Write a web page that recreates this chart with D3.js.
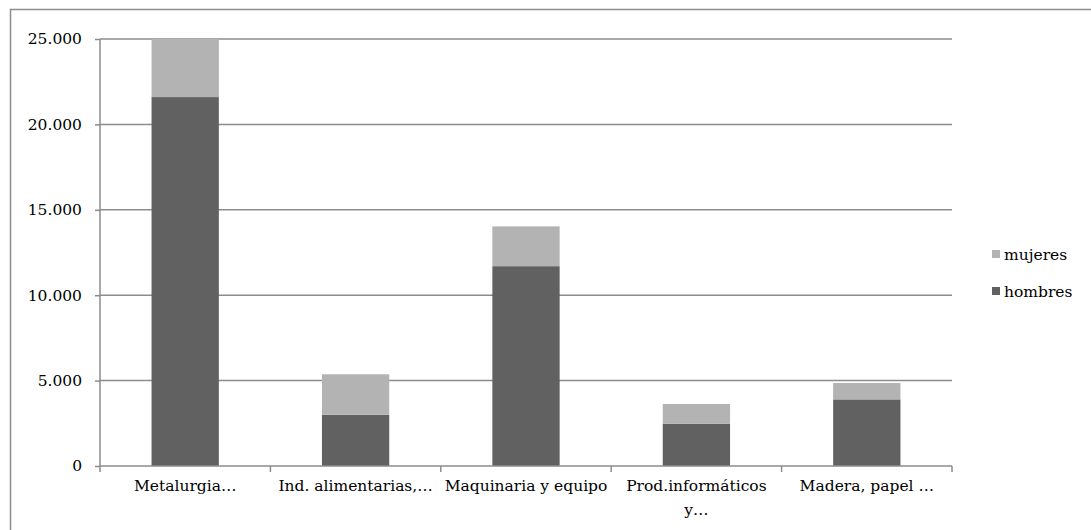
<!DOCTYPE html>
<html>
<head>
<meta charset="utf-8">
<script src="https://cdn.jsdelivr.net/npm/d3@7/dist/d3.min.js"></script>
<style>
  body { margin: 0; background: #fff; overflow: hidden; }
  svg { display: block; }
  svg text { font-family: "DejaVu Serif", serif; fill: #000; }
</style>
</head>
<body>
<svg width="1091" height="530"></svg>
<script>
const categories = ['Metalurgia…', 'Ind. alimentarias,…', 'Maquinaria y equipo', 'Prod.informáticos y…', 'Madera, papel …'];
const hombres = [21600, 3000, 11700, 2480, 3900];
const mujeres = [3400, 2370, 2330, 1150, 960];
const yTicks = [0, 5000, 10000, 15000, 20000, 25000];
const seriesNames = ['hombres', 'mujeres'];
const colors = { hombres: '#616161', mujeres: '#b3b3b3' };

const svg = d3.select('svg');
const width = +svg.attr('width');
const height = +svg.attr('height');

const margin = { top: 39, left: 100 };
const innerWidth = 952 - margin.left;
const innerHeight = 466 - margin.top;
const fontSize = '15.5px';

// outer frame (right and bottom edges fall outside the picture)
svg.append('path')
    .attr('d', `M10.5,${height}V9.5H${width}`)
    .attr('fill', 'none')
    .attr('stroke', '#8c8c8c')
    .attr('stroke-width', 1.5);

const data = categories.map((c, i) => ({ cat: c, hombres: hombres[i], mujeres: mujeres[i] }));
const stacked = d3.stack().keys(seriesNames)(data);

const xScale = d3.scaleBand()
    .domain(categories)
    .range([0, innerWidth]);

const yScale = d3.scaleLinear()
    .domain([0, 25000])
    .range([innerHeight, 0]);

const g = svg.append('g')
    .attr('transform', `translate(${margin.left}, ${margin.top})`);

// gridlines
g.selectAll('.grid').data(yTicks.slice(1))
  .enter().append('line')
    .attr('x1', 0).attr('x2', innerWidth)
    .attr('y1', d => yScale(d)).attr('y2', d => yScale(d))
    .attr('stroke', '#8c8c8c')
    .attr('stroke-width', 1.5);

// bars
const barW = xScale.bandwidth() * 0.395;
g.selectAll('.series').data(stacked)
  .enter().append('g')
    .attr('fill', d => colors[d.key])
  .selectAll('rect').data(d => d)
  .enter().append('rect')
    .attr('x', d => xScale(d.data.cat) + xScale.bandwidth() / 2 - barW / 2)
    .attr('width', barW)
    .attr('y', d => yScale(d[1]))
    .attr('height', d => yScale(d[0]) - yScale(d[1]));

// y axis
const yFormat = d => d === 0 ? '0' : d3.format(',')(d).replace(/,/g, '.');
const yAxisG = g.append('g')
    .call(d3.axisLeft(yScale).tickValues(yTicks).tickFormat(yFormat).tickSize(5).tickPadding(13));
yAxisG.selectAll('line, path').attr('stroke', '#8c8c8c').attr('stroke-width', 1.5);
yAxisG.select('.domain').attr('d', `M0,${innerHeight}V0`);
yAxisG.selectAll('text').style('font-size', fontSize);

// x axis
const xAxisG = g.append('g')
    .attr('transform', `translate(0, ${innerHeight})`);
xAxisG.append('line')
    .attr('x1', 0).attr('x2', innerWidth)
    .attr('stroke', '#8c8c8c').attr('stroke-width', 1.5);
const tickPos = categories.map(c => xScale(c)).concat([innerWidth]);
xAxisG.selectAll('.xt').data(tickPos)
  .enter().append('line')
    .attr('x1', d => d).attr('x2', d => d)
    .attr('y1', 0).attr('y2', 6)
    .attr('stroke', '#8c8c8c').attr('stroke-width', 1.5);

const labelLines = c => c === 'Prod.informáticos y…' ? ['Prod.informáticos', 'y…'] : [c];
const xl = xAxisG.selectAll('.xl').data(categories)
  .enter().append('text')
    .attr('text-anchor', 'middle')
    .attr('x', d => xScale(d) + xScale.bandwidth() / 2)
    .attr('y', 25)
    .style('font-size', fontSize);
xl.selectAll('tspan').data(d => labelLines(d))
  .enter().append('tspan')
    .attr('x', function () { return d3.select(this.parentNode).attr('x'); })
    .attr('dy', (d, i) => i === 0 ? 0 : 24)
    .text(d => d);

// legend
const legendItems = ['mujeres', 'hombres'];
const legend = svg.append('g').attr('transform', 'translate(992, 0)');
const li = legend.selectAll('g').data(legendItems)
  .enter().append('g')
    .attr('transform', (d, i) => `translate(0, ${256 + i * 37})`);
li.append('rect')
    .attr('x', 0).attr('y', -6)
    .attr('width', 8).attr('height', 8)
    .attr('fill', d => colors[d]);
li.append('text')
    .attr('x', 12).attr('y', 0)
    .attr('dominant-baseline', 'middle')
    .style('font-size', fontSize)
    .text(d => d);
</script>
</body>
</html>
